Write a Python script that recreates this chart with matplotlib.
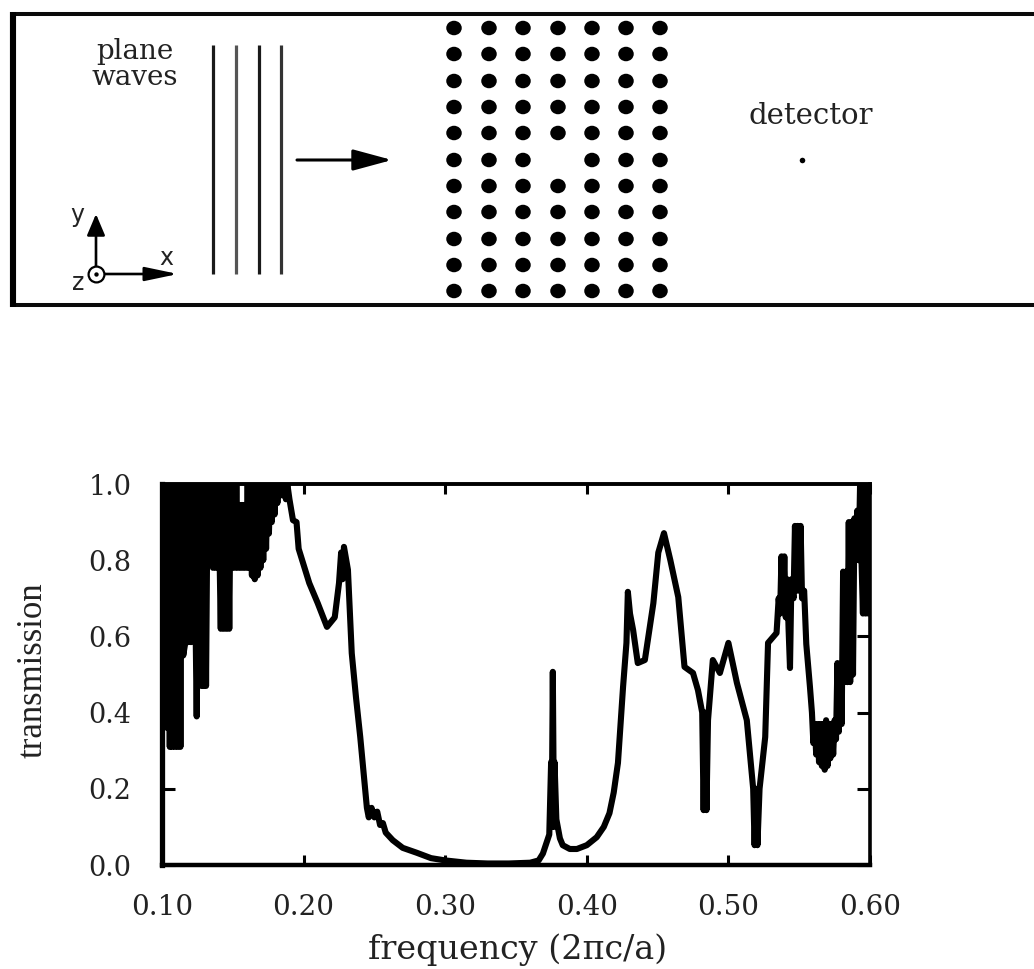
import matplotlib
matplotlib.use("Agg")
import matplotlib.pyplot as plt
from matplotlib.patches import Ellipse

W, H = 1034, 969

# transmission curve, resonances at low freq first
freq_low = [.1005, .1015, .1025, .1035, .1045, .1055, .1062, .107, .108, .109, .110, .111, .112, .113, .114, .115,
            .1165, .1175, .1185, .1195, .1205, .1225, .1245, .1262, .1278, .1287, .1295, .1303, .1311, .1322, .1345, .1352,
            .136, .137, .138, .1398, .1415, .1425, .1435, .1445, .1455, .1465, .1475, .1485, .1495, .1505, .1515, .1525,
            .1535, .1545, .1555, .1565, .1575, .1585, .1595, .1605, .1615, .1625, .1635, .1645, .1655, .1665, .1675, .1685,
            .1695, .1705, .1715, .1725, .1735, .1745, .1755, .1765, .1775, .1785, .1795, .1805, .1815, .1825, .1835, .1845,
            .1855, .1865, .1875, .1885, .190]
trans_low = [1.0, .50, 1.0, .36, 1.0, .31, 1.0, .31, 1.0, .31, 1.0, .31, 1.0, .31, 1.0, .55,
             .585, 1.0, .585, 1.0, .585, 1.0, .39, 1.0, .47, 1.0, .47, 1.0, .47, 1.0, .85, 1.0,
             .78, 1.0, .78, 1.0, .62, 1.0, .62, 1.0, .62, 1.0, .62, 1.0, .78, 1.0, .78, 1.0,
             .78, .945, .78, .945, .78, .945, .78, 1.0, .78, 1.0, .76, 1.0, .75, 1.0, .76, 1.0,
             .78, 1.0, .80, 1.0, .83, 1.0, .87, 1.0, .90, 1.0, .92, 1.0, .95, 1.0, .97, 1.0,
             .97, 1.0, .96, 1.0, .96]

freq_mid = [.1925, .195, .1965, .199, .204, .21, .2165, .222, .225, .2265, .2275, .2285, .2313, .234, .237, .24, .2447, .246, .248, .25,
            .252, .254, .256, .258, .263, .27, .28, .29, .30, .315, .33, .345, .36, .366, .369, .3735, .3748, .3752, .376, .3768,
            .3772, .3785, .381, .383, .388, .393, .40, .407, .412, .416, .419, .422, .4256, .428, .429, .4305, .4327, .436, .441, .447,
            .4505, .4545, .459, .4646, .469, .475, .4785, .4815, .4825, .4835, .4845, .4856, .489, .494, .50, .506, .513, .5175, .5185, .5195,
            .5205, .522, .526, .528, .534, .5355, .5365, .5375, .5385, .5395, .5405, .5415, .5425, .5435, .5445, .546, .547, .548, .549, .550,
            .551, .552, .5535, .555, .5576]
trans_mid = [.905, .90, .83, .80, .74, .687, .625, .65, .74, .82, .75, .835, .775, .556, .44, .336, .15, .125, .15, .125,
             .14, .105, .11, .085, .065, .045, .032, .018, .012, .006, .004, .004, .006, .012, .03, .08, .27, .10, .507, .10,
             .27, .12, .07, .052, .042, .042, .052, .073, .10, .136, .19, .268, .467, .583, .717, .66, .617, .53, .538, .687,
             .82, .871, .80, .703, .52, .504, .459, .40, .144, .40, .144, .38, .538, .504, .583, .478, .38, .20, .052, .20,
             .052, .20, .336, .583, .609, .70, .66, .81, .68, .81, .65, .75, .62, .517, .75, .70, .89, .72, .89, .72,
             .89, .70, .72, .58, .467]

freq_high = [.559, .560, .561, .562, .563, .564, .565, .566, .567, .568, .569, .570, .571, .572, .573, .574, .575, .576,
             .577, .578, .579, .580, .581, .582, .583, .584, .585, .586, .587, .588, .589, .590, .591, .592, .593, .594,
             .595, .596, .597, .598, .599, .5998]
trans_high = [.40, .32, .37, .29, .37, .27, .37, .26, .37, .25, .38, .26, .37, .28, .37, .29, .38, .33,
              .53, .35, .52, .37, .77, .48, .77, .48, .90, .48, .90, .50, .91, .80, .93, .80, 1.0, .80,
              .66, 1.0, .66, 1.0, .66, 1.0]

freq = freq_low + freq_mid + freq_high
trans = trans_low + trans_mid + trans_high

x_ticks = [0.10, 0.20, 0.30, 0.40, 0.50, 0.60]
x_tick_labels = ["0.10", "0.20", "0.30", "0.40", "0.50", "0.60"]
y_ticks = [0.0, 0.2, 0.4, 0.6, 0.8, 1.0]
y_tick_labels = ["0.0", "0.2", "0.4", "0.6", "0.8", "1.0"]

# the schematic, in image pixels
rod_cols = [454, 489, 523, 558, 592, 626, 660]
rod_rows = [28, 54, 81, 107, 133, 160, 186, 212, 239, 265, 291]
defect = (558, 160)
wave_fronts = [213, 236, 259, 281]
wave_colors = ["#1a1a1a", "#555555", "#1a1a1a", "#333333"]

fig = plt.figure(figsize=(W / 100, H / 100), dpi=100)
serif = "DejaVu Serif"

top = fig.add_axes([0, 0, 1, 1])
top.set_xlim(0, W)
top.set_ylim(H, 0)
top.axis("off")

# frame, open on the right
top.plot([W, 12, 12, W], [13.5, 13.5, 305, 305], color="#0a0a0a", lw=2.9, solid_joinstyle="miter")
top.plot([13, 13], [12, 307], color="black", lw=4.4, solid_capstyle="butt")

for xw, cw in zip(wave_fronts, wave_colors):
    top.plot([xw, xw], [45, 274], color=cw, lw=2.3, solid_capstyle="butt")

for r in rod_rows:
    for c in rod_cols:
        if (c, r) != defect:
            top.add_patch(Ellipse((c, r), 15.5, 14.5, color="black", lw=0))
top.scatter([802], [160], s=16, color="black", lw=0)

arrow = dict(arrowstyle="-|>,head_length=2.4,head_width=0.65", color="black", lw=2.2, shrinkA=0, shrinkB=0)
top.annotate("", xy=(392, 160), xytext=(297, 160), arrowprops=arrow)
up = dict(arrowstyle="-|>,head_length=1.3,head_width=0.55", color="black", lw=1.9, shrinkA=0, shrinkB=0)
top.annotate("", xy=(96, 214), xytext=(96, 274), arrowprops=up)
right = dict(arrowstyle="-|>,head_length=2.0,head_width=0.42", color="black", lw=1.9, shrinkA=0, shrinkB=0)
top.annotate("", xy=(178, 274), xytext=(96, 274), arrowprops=right)
top.scatter([96], [274], s=130, facecolor="white", edgecolor="black", lw=1.6, zorder=4)
top.scatter([96], [274], s=10, color="black", lw=0, zorder=5)

top.text(135, 51, "plane", family=serif, fontsize=20, ha="center", va="center", color="#222222")
top.text(135, 77, "waves", family=serif, fontsize=20, ha="center", va="center", color="#222222")
top.text(811, 116, "detector", family=serif, fontsize=21, ha="center", va="center", color="#222222")
top.text(77, 215, "y", family="DejaVu Sans", fontsize=17, ha="center", va="center", color="#222222")
top.text(166, 258, "x", family="DejaVu Sans", fontsize=17, ha="center", va="center", color="#222222")
top.text(78, 283, "z", family="DejaVu Sans", fontsize=17, ha="center", va="center", color="#222222")

ax = fig.add_axes([162 / W, (H - 865) / H, (870 - 162) / W, (865 - 484) / H])
ax.plot(freq, trans, color="black", lw=4.4, solid_joinstyle="round")
ax.set_xlim(0.10, 0.60)
ax.set_ylim(0.0, 1.0)
ax.set_xticks(x_ticks)
ax.set_xticklabels(x_tick_labels, family=serif, fontsize=20, color="#222222")
ax.set_yticks(y_ticks)
ax.set_yticklabels(y_tick_labels, family=serif, fontsize=19.5, color="#222222")
ax.tick_params(axis="x", direction="in", length=7, width=2.2, top=True, pad=21)
ax.tick_params(axis="y", direction="in", length=9.4, width=2.2, right=True, pad=22)
ax.spines["left"].set_linewidth(3.8)
ax.spines["bottom"].set_linewidth(3.2)
ax.spines["top"].set_linewidth(2.8)
ax.spines["right"].set_linewidth(2.6)
ax.set_xlabel("frequency (2πc/a)", family=serif, fontsize=24, color="#222222")
ax.xaxis.set_label_coords((518 - 162) / 708, (865 - 933) / 381)
ax.set_ylabel("transmission", family="Liberation Serif", fontsize=25, color="#222222")
ax.yaxis.set_label_coords((50 - 162) / 708, (865 - 670) / 381)

fig.savefig("out.png", dpi=100)
